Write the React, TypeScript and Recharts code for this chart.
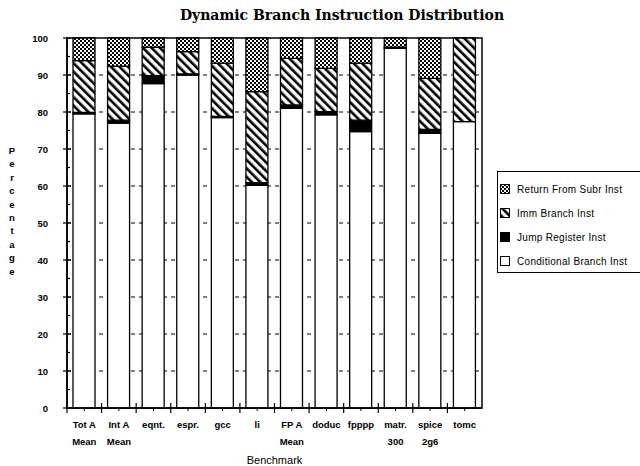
import React from "react";
import {
	Bar,
	BarChart,
	CartesianGrid,
	ReferenceArea,
	XAxis,
	YAxis,
} from "recharts";

const categories = [
	"Tot A\nMean",
	"Int A\nMean",
	"eqnt.",
	"espr.",
	"gcc",
	"li",
	"FP A\nMean",
	"doduc",
	"fpppp",
	"matr.\n300",
	"spice\n2g6",
	"tomc",
];
const conditional = [79.5, 77.0, 87.7, 90.0, 78.5, 60.2, 81.0, 79.2, 74.7, 97.2, 74.2, 77.4];
const jumpRegister = [0.4, 0.8, 2.1, 0.3, 0.3, 0.7, 0.9, 0.9, 3.1, 0, 1.1, 0];
const immBranch = [14.0, 14.6, 7.7, 6.0, 14.4, 24.6, 12.6, 11.7, 15.4, 0.3, 13.8, 22.6];
const returnSubr = [6.1, 7.6, 2.5, 3.7, 6.8, 14.5, 5.5, 8.2, 6.8, 2.5, 10.9, 0];

const yTicks = [0, 5, 10, 15, 20, 25, 30, 35, 40, 45, 50, 55, 60, 65, 70, 75, 80, 85, 90, 95, 100];
const gridTicks = [10, 20, 30, 40, 50, 60, 70, 80, 90];

const data = categories.map((name, i) => ({
	name,
	cond: conditional[i],
	jump: jumpRegister[i],
	imm: immBranch[i],
	ret: returnSubr[i],
}));

const FONT = '"Liberation Sans", Arial, sans-serif';

const legendItems = [
	{ label: "Return From Subr Inst", fill: "url(#stipple)" },
	{ label: "Imm Branch Inst", fill: "url(#hatch)" },
	{ label: "Jump Register Inst", fill: "#000" },
	{ label: "Conditional Branch Inst", fill: "#fff" },
];

function YTick(props: any) {
	const { x, y, payload } = props;
	const major = payload.value % 10 === 0;
	return (
		<g>
			<line
				x1={major ? x - 4 : x}
				x2={major ? x + 4 : x + 3}
				y1={y}
				y2={y}
				stroke="#000"
				strokeWidth={1.2}
			/>
			{major && (
				<text
					x={x - 19}
					y={y}
					dy={3.5}
					textAnchor="end"
					fontFamily={FONT}
					fontWeight="bold"
					fontSize={9.5}
					fill="#000"
				>
					{payload.value}
				</text>
			)}
		</g>
	);
}

function XTick(props: any) {
	const { x, y, payload } = props;
	const half = payload.offset ?? 17.3;
	const lines = String(payload.value).split("\n");
	return (
		<g>
			<line x1={x - half} x2={x - half} y1={y - 5} y2={y + 5} stroke="#000" strokeWidth={1.2} />
			<line x1={x} x2={x} y1={y} y2={y + 3} stroke="#000" strokeWidth={1} />
			{lines.map((t, i) => (
				<text
					key={i}
					x={x}
					y={y + 20 + i * 16.5}
					textAnchor="middle"
					fontFamily={FONT}
					fontWeight="bold"
					fontSize={9.5}
					fill="#000"
				>
					{t}
				</text>
			))}
		</g>
	);
}

export default function App() {
	return (
		<div
			style={{
				position: "absolute",
				left: 0,
				top: 0,
				width: 640,
				height: 466,
				background: "#fff",
				overflow: "hidden",
			}}
		>
			<svg width={0} height={0} style={{ position: "absolute" }}>
				<defs>
					<pattern id="stipple" patternUnits="userSpaceOnUse" width={4} height={4}>
						<rect width={4} height={4} fill="#fff" />
						<rect x={0} y={0} width={2} height={2} fill="#000" />
						<rect x={2} y={2} width={2} height={2} fill="#000" />
					</pattern>
					<pattern
						id="hatch"
						patternUnits="userSpaceOnUse"
						width={6}
						height={6}
						patternTransform="rotate(-45)"
					>
						<rect width={6} height={6} fill="#fff" />
						<rect x={0} y={0} width={2.6} height={6} fill="#000" />
					</pattern>
				</defs>
			</svg>

			<div
				style={{
					position: "absolute",
					left: 0,
					width: 684,
					top: 7,
					textAlign: "center",
					fontFamily: '"DejaVu Serif", serif',
					fontWeight: "bold",
					fontSize: 14,
				}}
			>
				Dynamic Branch Instruction Distribution
			</div>

			<div
				style={{
					position: "absolute",
					left: 6,
					width: 12,
					top: 144,
					fontFamily: FONT,
					fontWeight: "bold",
					fontSize: 9.5,
					lineHeight: "13.4px",
					textAlign: "center",
				}}
			>
				{"Percentage".split("").map((c, i) => (
					<div key={i}>{c}</div>
				))}
			</div>

			<div
				style={{
					position: "absolute",
					left: 67,
					width: 415,
					top: 454,
					textAlign: "center",
					fontFamily: FONT,
					fontSize: 11,
				}}
			>
				Benchmark
			</div>

			<div
				style={{
					position: "absolute",
					left: 497,
					top: 171,
					width: 150,
					height: 102,
					borderTop: "1.5px solid #000",
					borderBottom: "1.5px solid #000",
					borderLeft: "1px solid #000",
					boxSizing: "border-box",
					fontFamily: FONT,
					fontSize: 10,
					letterSpacing: 0.3,
					paddingTop: 5,
				}}
			>
				{legendItems.map((item) => (
					<div
						key={item.label}
						style={{ display: "flex", alignItems: "center", height: 24, paddingLeft: 2 }}
					>
						<svg width={10} height={10} style={{ marginRight: 7, flexShrink: 0 }}>
							<rect x={0.5} y={0.5} width={9} height={9} fill={item.fill} stroke="#000" strokeWidth={1} />
						</svg>
						<span style={{ whiteSpace: "nowrap" }}>{item.label}</span>
					</div>
				))}
			</div>

			<div style={{ position: "absolute", left: 0, top: 0 }}>
				<BarChart
					width={640}
					height={466}
					data={data}
					margin={{ top: 38, right: 158, bottom: 18, left: 27 }}
					barSize={22}
				>
					<CartesianGrid
						vertical={false}
						horizontalValues={gridTicks}
						strokeDasharray="4 4"
						stroke="#000"
						strokeWidth={1}
					/>
					<XAxis
						dataKey="name"
						interval={0}
						height={40}
						tickSize={0}
						tickMargin={0}
						tick={<XTick />}
						axisLine={{ stroke: "#000", strokeWidth: 1.5 }}
						tickLine={false}
					/>
					<YAxis
						domain={[0, 100]}
						ticks={yTicks}
						interval={0}
						width={40}
						tickSize={0}
						tickMargin={0}
						tick={<YTick />}
						axisLine={{ stroke: "#000", strokeWidth: 1.5 }}
						tickLine={false}
					/>
					<Bar dataKey="cond" stackId="a" fill="#fff" stroke="#000" strokeWidth={1.3} isAnimationActive={false} />
					<Bar dataKey="jump" stackId="a" fill="#000" stroke="#000" strokeWidth={1.3} isAnimationActive={false} />
					<Bar dataKey="imm" stackId="a" fill="url(#hatch)" stroke="#000" strokeWidth={1.3} isAnimationActive={false} />
					<Bar dataKey="ret" stackId="a" fill="url(#stipple)" stroke="#000" strokeWidth={1.3} isAnimationActive={false} />
					<ReferenceArea y1={0} y2={100} fill="none" stroke="#000" strokeWidth={1.5} />
				</BarChart>
			</div>
		</div>
	);
}
